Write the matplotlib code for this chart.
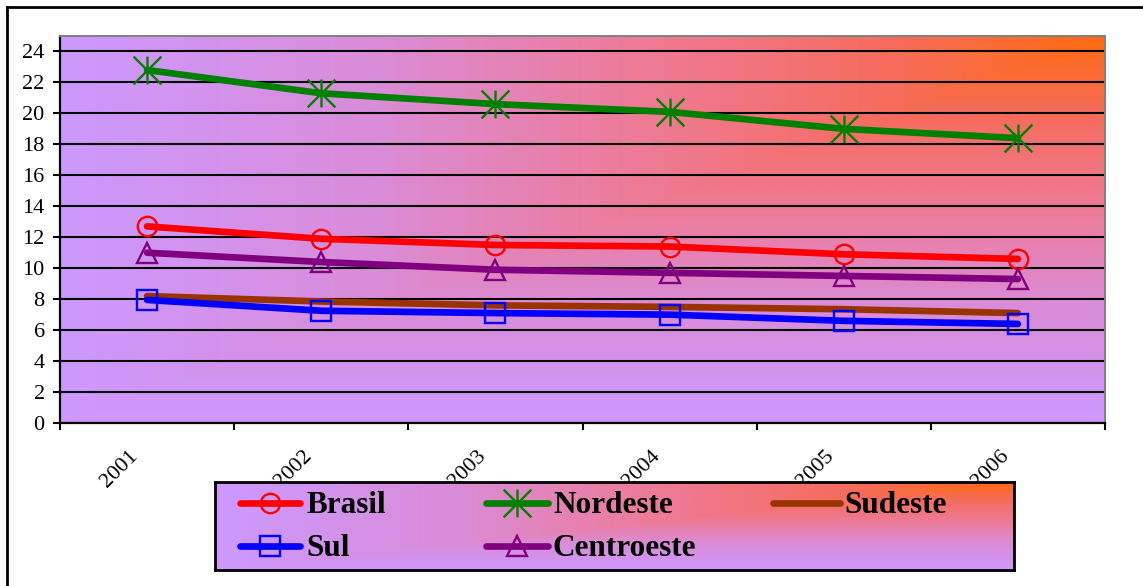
import numpy as np
import matplotlib
matplotlib.use("Agg")
import matplotlib.pyplot as plt
from matplotlib.colors import LinearSegmentedColormap
from matplotlib.path import Path
from matplotlib.lines import Line2D
from matplotlib.transforms import ScaledTranslation

# ---- data -------------------------------------------------------------
years = ["2001", "2002", "2003", "2004", "2005", "2006"]
brasil = [12.7, 11.9, 11.5, 11.4, 10.9, 10.6]
nordeste = [22.8, 21.3, 20.6, 20.1, 19.0, 18.4]
sudeste = [8.2, 7.85, 7.6, 7.5, 7.35, 7.1]
sul = [7.95, 7.25, 7.1, 7.0, 6.6, 6.4]
centroeste = [11.0, 10.4, 9.9, 9.7, 9.5, 9.3]
y_ticks = list(range(0, 25, 2))

# ---- style ------------------------------------------------------------
plt.rcParams["font.family"] = ["Liberation Serif", "DejaVu Serif"]

asterisk = Path(
    [(0, -1), (0, 1), (-1, -1), (1, 1), (-1, 1), (1, -1)],
    [Path.MOVETO, Path.LINETO, Path.MOVETO, Path.LINETO, Path.MOVETO, Path.LINETO],
)

LINE_W = 4.8
series = [
    ("Brasil", brasil, "#ff0000", "o", 14),
    ("Nordeste", nordeste, "#008000", asterisk, 20),
    ("Sudeste", sudeste, "#993300", None, 0),
    ("Sul", sul, "#0000ff", "s", 14),
    ("Centroeste", centroeste, "#800080", "^", 15),
]

grad_cmap = LinearSegmentedColormap.from_list(
    "corner",
    [(0.0, "#ff6a10"), (0.2, "#f66c5c"), (0.45, "#ee7b98"),
     (0.7, "#da8cd8"), (1.0, "#cc99ff")],
)


def corner_gradient(n=400):
    """Gradient radiating from the top-right corner (L-shaped contours)."""
    u = np.linspace(1, 0, n)[None, :]          # distance from right edge
    v = np.linspace(0, 1, n)[:, None]          # distance from top edge
    return np.maximum(u, v)


W, H = 1143, 586
fig = plt.figure(figsize=(W / 100, H / 100), dpi=100)

# outer frame (top and left edges visible)
fig.add_artist(Line2D([7 / W, 7 / W], [1 - 7 / H, -0.1], color="black", lw=2,
                      transform=fig.transFigure, clip_on=False))
fig.add_artist(Line2D([7 / W, 1.1], [1 - 7 / H, 1 - 7 / H], color="black", lw=2,
                      transform=fig.transFigure, clip_on=False))

ax = fig.add_axes([60 / W, 1 - 423 / H, 1045 / W, 387 / H])
ax.imshow(corner_gradient(), cmap=grad_cmap, vmin=0, vmax=1, aspect="auto",
          extent=(0, 1, 0, 1), transform=ax.transAxes, zorder=0,
          interpolation="bilinear")

x = np.arange(len(years))
for name, vals, col, mk, ms in series:
    ax.plot(x, vals, color=col, lw=LINE_W, solid_capstyle="round",
            marker=mk, markersize=ms, markerfacecolor="none",
            markeredgecolor=col, markeredgewidth=1.7, zorder=3, label=name)

ax.set_xlim(-0.5, len(years) - 0.5)
ax.set_ylim(0, 25)
ax.set_yticks(y_ticks)
ax.set_yticklabels([str(t) for t in y_ticks], fontsize=16)
ax.yaxis.grid(True, color="black", lw=1.5)
for gl in ax.get_ygridlines():
    gl.set_zorder(1)

ax.set_xticks(np.arange(len(years) + 1) - 0.5)
ax.set_xticklabels([])
ax.set_xticks(x, minor=True)
ax.set_xticklabels(years, minor=True, rotation=45, rotation_mode="anchor",
                   ha="right", va="center", fontsize=16)
ax.tick_params(axis="x", which="minor", length=0, pad=22)
ax.tick_params(axis="x", which="major", length=5, width=1.5, direction="out")
ax.tick_params(axis="y", length=5, width=1.5, direction="out", pad=6)

# nudge the rotated year labels slightly to the left of each category centre
shift = ScaledTranslation(-12 / 100, 0, fig.dpi_scale_trans)
for tick in ax.xaxis.get_minor_ticks():
    tick.label1.set_transform(tick.label1.get_transform() + shift)

for side in ("left", "bottom"):
    ax.spines[side].set_color("black")
    ax.spines[side].set_linewidth(1.6)
for side in ("top", "right"):
    ax.spines[side].set_color("#808080")
    ax.spines[side].set_linewidth(1.4)

# ---- legend box -------------------------------------------------------
lx0, ly0, lw_, lh_ = 215, 482, 799, 88
lax = fig.add_axes([lx0 / W, 1 - (ly0 + lh_) / H, lw_ / W, lh_ / H])
lax.imshow(corner_gradient(), cmap=grad_cmap, vmin=0, vmax=1, aspect="auto",
           extent=(0, 1, 0, 1), transform=lax.transAxes, zorder=0,
           interpolation="bilinear")
lax.set_xlim(0, 1)
lax.set_ylim(0, 1)
lax.set_xticks([])
lax.set_yticks([])
for sp in lax.spines.values():
    sp.set_color("black")
    sp.set_linewidth(2)

rows = [0.76, 0.27]
cols = [(0.031, 0.106, 0.114), (0.339, 0.417, 0.423), (0.698, 0.782, 0.788)]
slots = [(0, 0), (0, 1), (0, 2), (1, 0), (1, 1)]
for (name, vals, col, mk, ms), (r, c) in zip(series, slots):
    hx0, hx1, tx = cols[c]
    yy = rows[r]
    lax.plot([hx0, hx1], [yy, yy], color=col, lw=LINE_W, solid_capstyle="round",
             zorder=3)
    if mk is not None:
        lax.plot([(hx0 + hx1) / 2], [yy], linestyle="none", marker=mk,
                 markersize=ms, markerfacecolor="none", markeredgecolor=col,
                 markeredgewidth=1.7, zorder=4)
    lax.text(tx, yy - 0.03, name, fontsize=22.5, fontweight="bold",
             va="center", ha="left", zorder=5)

fig.savefig("out.png", dpi=100)
